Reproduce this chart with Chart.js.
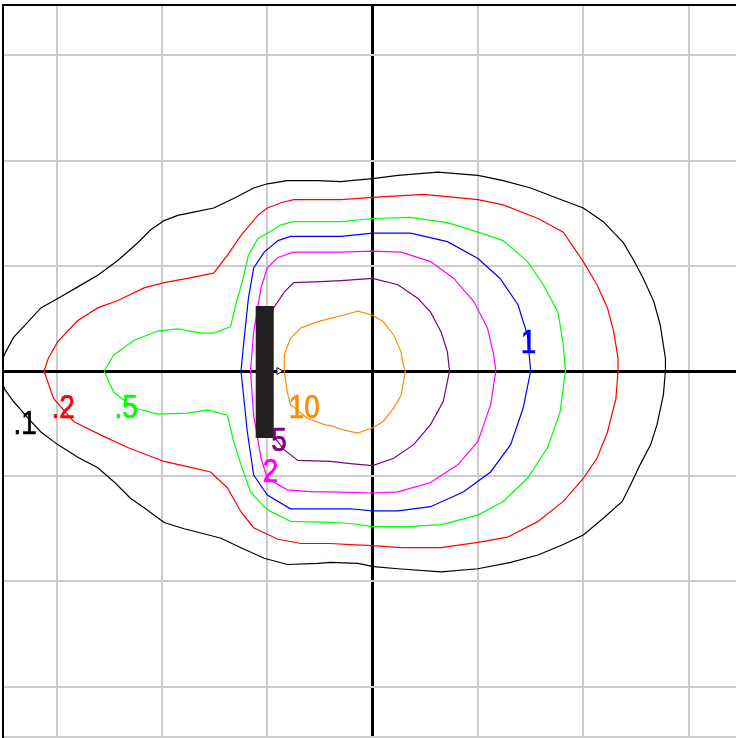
<!DOCTYPE html>
<html>
<head>
<meta charset="utf-8">
<script src="https://cdn.jsdelivr.net/npm/chart.js@4"></script>
<style>
  html, body { margin: 0; padding: 0; background: #fff; }
  #wrap { width: 736px; height: 738px; }
</style>
</head>
<body>
<div id="wrap"><canvas id="myChart"></canvas></div>
<script>
// contour lines, in grid units (one grid square = 1)
var c01 = [[-3.56,0],[-3.49,0.17],[-3.41,0.32],[-3.27,0.47],[-3.15,0.60],[-2.99,0.69],[-2.80,0.80],[-2.61,0.91],[-2.42,1.05],[-2.23,1.22],[-2.11,1.34],[-1.98,1.43],[-1.85,1.48],[-1.70,1.51],[-1.51,1.55],[-1.32,1.64],[-1.13,1.74],[-1.00,1.78],[-0.81,1.81],[-0.52,1.81],[-0.30,1.80],[-0.21,1.81],[0,1.83],[0.24,1.86],[0.62,1.89],[1.00,1.86],[1.24,1.81],[1.50,1.74],[1.76,1.64],[2.00,1.55],[2.19,1.42],[2.38,1.22],[2.48,1.05],[2.57,0.88],[2.67,0.66],[2.73,0.44],[2.78,0.12],[2.78,0],[2.76,-0.23],[2.70,-0.51],[2.64,-0.70],[2.54,-0.89],[2.45,-1.08],[2.37,-1.24],[2.19,-1.40],[2.00,-1.56],[1.81,-1.65],[1.57,-1.75],[1.31,-1.82],[1.00,-1.88],[0.65,-1.91],[0.24,-1.88],[0.01,-1.86],[-0.14,-1.83],[-0.40,-1.82],[-0.52,-1.83],[-0.81,-1.84],[-1.03,-1.78],[-1.25,-1.68],[-1.44,-1.59],[-1.63,-1.54],[-1.79,-1.50],[-1.98,-1.44],[-2.17,-1.30],[-2.30,-1.21],[-2.46,-1.05],[-2.61,-0.92],[-2.80,-0.82],[-2.99,-0.70],[-3.15,-0.58],[-3.27,-0.45],[-3.41,-0.29],[-3.49,-0.18],[-3.56,0]];
var c02 = [[-3.12,0],[-3.08,0.12],[-2.99,0.28],[-2.80,0.48],[-2.61,0.60],[-2.42,0.67],[-2.17,0.79],[-1.98,0.84],[-1.76,0.88],[-1.51,0.93],[-1.38,1.10],[-1.25,1.29],[-1.09,1.48],[-1.00,1.55],[-0.87,1.60],[-0.75,1.63],[-0.30,1.63],[0,1.65],[0.48,1.68],[1.00,1.63],[1.24,1.58],[1.57,1.45],[1.81,1.32],[2.00,1.04],[2.13,0.82],[2.23,0.60],[2.29,0.37],[2.33,0.12],[2.33,0],[2.31,-0.26],[2.23,-0.58],[2.13,-0.83],[2.00,-1.02],[1.81,-1.24],[1.57,-1.43],[1.28,-1.58],[1.00,-1.63],[0.65,-1.68],[0.27,-1.68],[0,-1.66],[-0.21,-1.65],[-0.40,-1.64],[-0.68,-1.64],[-0.90,-1.60],[-1.13,-1.49],[-1.25,-1.34],[-1.38,-1.11],[-1.54,-0.96],[-1.76,-0.91],[-1.98,-0.86],[-2.32,-0.73],[-2.58,-0.61],[-2.84,-0.48],[-3.03,-0.26],[-3.12,0]];
var c05 = [[-2.55,0],[-2.46,0.15],[-2.27,0.29],[-2.04,0.38],[-1.85,0.40],[-1.63,0.36],[-1.51,0.36],[-1.35,0.42],[-1.30,0.63],[-1.23,0.88],[-1.18,1.10],[-1.09,1.26],[-1.00,1.31],[-0.87,1.39],[-0.75,1.42],[-0.30,1.42],[0,1.45],[0.36,1.46],[0.71,1.41],[1.00,1.32],[1.24,1.24],[1.47,1.04],[1.62,0.82],[1.76,0.56],[1.81,0.25],[1.83,0],[1.78,-0.39],[1.66,-0.73],[1.47,-1.02],[1.24,-1.24],[1.00,-1.37],[0.65,-1.46],[0.33,-1.48],[0,-1.48],[-0.21,-1.45],[-0.40,-1.44],[-0.78,-1.43],[-1.00,-1.32],[-1.16,-1.15],[-1.25,-0.89],[-1.32,-0.67],[-1.38,-0.42],[-1.57,-0.37],[-1.76,-0.40],[-2.04,-0.41],[-2.27,-0.35],[-2.46,-0.20],[-2.55,0]];
var c1 = [[-1.25,0],[-1.22,0.31],[-1.18,0.69],[-1.13,0.98],[-1.03,1.13],[-0.90,1.24],[-0.78,1.28],[-0.30,1.28],[0,1.31],[0.36,1.31],[0.71,1.23],[1.00,1.07],[1.21,0.88],[1.38,0.63],[1.47,0.34],[1.50,0],[1.43,-0.35],[1.31,-0.70],[1.12,-0.96],[0.86,-1.15],[0.55,-1.29],[0.24,-1.33],[0,-1.33],[-0.21,-1.31],[-0.40,-1.31],[-0.78,-1.31],[-1.00,-1.18],[-1.13,-0.99],[-1.19,-0.58],[-1.25,0]];
var c2 = [[-1.16,0],[-1.13,0.37],[-1.06,0.79],[-1.00,0.98],[-0.90,1.08],[-0.75,1.13],[-0.52,1.13],[-0.30,1.13],[0,1.14],[0.27,1.13],[0.55,1.04],[0.77,0.88],[0.96,0.66],[1.09,0.41],[1.15,0.15],[1.17,0],[1.12,-0.32],[1.00,-0.67],[0.81,-0.89],[0.55,-1.06],[0.24,-1.15],[0,-1.16],[-0.40,-1.15],[-0.56,-1.15],[-0.81,-1.13],[-1.00,-1.02],[-1.06,-0.83],[-1.13,-0.42],[-1.16,0]];
var c5 = [[-1.01,0],[-1.00,0.39],[-0.94,0.60],[-0.84,0.75],[-0.75,0.84],[-0.49,0.85],[-0.30,0.86],[0,0.88],[0.24,0.82],[0.43,0.69],[0.55,0.56],[0.65,0.37],[0.71,0.18],[0.73,0],[0.67,-0.29],[0.55,-0.51],[0.39,-0.70],[0.20,-0.83],[0,-0.90],[-0.21,-0.88],[-0.40,-0.86],[-0.71,-0.85],[-0.84,-0.75],[-0.99,-0.56],[-1.01,0]];
var c10 = [[-0.84,0],[-0.84,0.15],[-0.78,0.31],[-0.68,0.41],[-0.52,0.47],[-0.40,0.50],[-0.28,0.53],[-0.14,0.57],[0,0.53],[0.10,0.47],[0.20,0.34],[0.27,0.18],[0.29,0.06],[0.31,0],[0.27,-0.23],[0.20,-0.35],[0.10,-0.48],[0,-0.54],[-0.14,-0.59],[-0.28,-0.56],[-0.40,-0.52],[-0.46,-0.51],[-0.62,-0.45],[-0.78,-0.32],[-0.81,-0.20],[-0.84,0]];

var contours = [c01, c02, c05, c1, c2, c5, c10];
var levelNames = ['.1', '.2', '.5', '1', '2', '5', '10'];
var levelColors = ['#000000', '#ff0000', '#00ff00', '#0000ff', '#ff00ff', '#800080', '#ff8c00'];

// where each level's label sits
var labelX = [-3.30, -2.94, -2.34, 1.48, -0.97, -0.89, -0.65];
var labelY = [-0.50, -0.35, -0.35, 0.27, -0.96, -0.66, -0.35];

// grid lines
var gridTicks = [-3, -2, -1, 0, 1, 2, 3];

// the source (dark bar) and the little marker beside it
var barX = [-1.025, -1.025];
var barY = [0.617, -0.636];
var markX = [-0.89];
var markY = [0];

var xMin = -3.51, xMax = 3.45;
var yMin = -3.48, yMax = 3.48;

function toPts(arr) {
  return arr.map(function (p) { return { x: p[0], y: p[1] }; });
}

var datasets = [];
datasets.push({
  type: 'line',
  data: barX.map(function (x, i) { return { x: x, y: barY[i] }; }),
  borderColor: '#231f20',
  borderWidth: 18,
  borderCapStyle: 'butt',
  pointRadius: 0,
  order: 0
});
datasets.push({
  type: 'scatter',
  data: markX.map(function (x, i) { return { x: x, y: markY[i] }; }),
  pointStyle: 'triangle',
  rotation: 90,
  pointRadius: 4,
  borderWidth: 1,
  borderColor: '#000',
  backgroundColor: '#fff',
  order: 1
});
for (var i = 0; i < contours.length; i++) {
  datasets.push({
    type: 'line',
    label: levelNames[i],
    data: toPts(contours[i]),
    borderColor: levelColors[i],
    borderWidth: 1.2,
    pointRadius: 0,
    tension: 0,
    fill: false,
    order: 2 + i
  });
}

//等值线标注
var labelPlugin = {
  id: 'levelLabels',
  afterDatasetsDraw: function (chart) {
    var ctx = chart.ctx;
    var xs = chart.scales.x, ys = chart.scales.y;
    ctx.save();
    ctx.font = '34px "Liberation Sans", Arial, sans-serif';
    ctx.textAlign = 'center';
    ctx.textBaseline = 'middle';
    ctx.lineWidth = 0.7;
    for (var i = 0; i < levelNames.length; i++) {
      var px = xs.getPixelForValue(labelX[i]);
      var py = ys.getPixelForValue(labelY[i]);
      ctx.save();
      ctx.translate(px, py);
      ctx.scale(0.82, 1);
      ctx.fillStyle = levelColors[i];
      ctx.strokeStyle = levelColors[i];
      ctx.fillText(levelNames[i], 0, 1);
      ctx.strokeText(levelNames[i], 0, 1);
      ctx.restore();
    }
    ctx.restore();
  }
};

function gridColor(c) {
  if (c.tick.value === 0) return '#000';
  return '#cccccc';
}
function gridWidth(c) {
  return c.tick.value === 0 ? 3 : 2;
}

new Chart(document.getElementById('myChart'), {
  data: { datasets: datasets },
  options: {
    responsive: true,
    maintainAspectRatio: false,
    animation: false,
    devicePixelRatio: 1,
    layout: { autoPadding: false, padding: { left: 3, top: 5, right: -4, bottom: 1 } },
    plugins: { legend: { display: false }, tooltip: { enabled: false } },
    scales: {
      x: {
        type: 'linear',
        position: 'top',
        min: xMin,
        max: xMax,
        afterBuildTicks: function (axis) {
          axis.ticks = gridTicks.map(function (v) { return { value: v }; });
        },
        ticks: { display: false },
        grid: { drawTicks: false, color: gridColor, lineWidth: gridWidth },
        border: { display: true, color: '#000', width: 2 }
      },
      y: {
        type: 'linear',
        min: yMin,
        max: yMax,
        afterBuildTicks: function (axis) {
          axis.ticks = [yMin].concat(gridTicks).map(function (v) { return { value: v }; });
        },
        ticks: { display: false },
        grid: { drawTicks: false, color: gridColor, lineWidth: gridWidth },
        border: { display: true, color: '#000', width: 2 }
      }
    }
  },
  plugins: [labelPlugin]
});
</script>
</body>
</html>
